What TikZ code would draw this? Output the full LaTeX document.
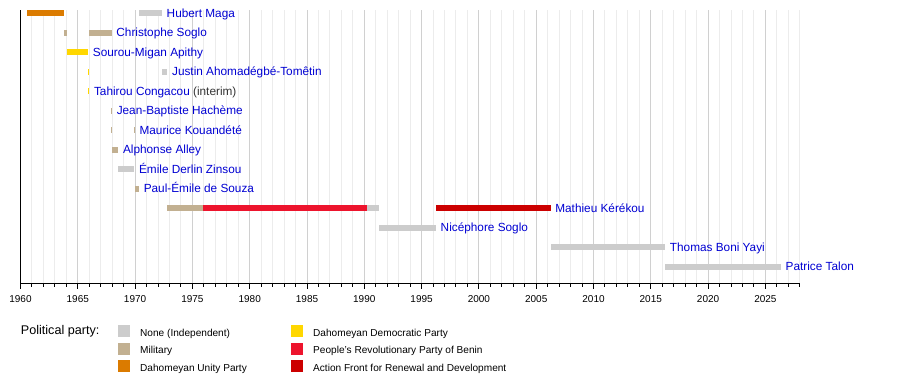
\documentclass[tikz,border=0pt]{standalone}
\usepackage{fontspec}
\setmainfont{Liberation Sans}
\definecolor{cnone}{RGB}{204,204,204}
\definecolor{cmil}{RGB}{194,176,145}
\definecolor{cdup}{RGB}{219,123,0}
\definecolor{cddp}{RGB}{255,215,0}
\definecolor{cprpb}{RGB}{237,20,45}
\definecolor{cfard}{RGB}{204,0,0}
\definecolor{clink}{RGB}{0,0,210}
\definecolor{cmajor}{RGB}{208,208,208}
\definecolor{cminor}{RGB}{236,236,236}
\newcommand\YX[1]{(20.5+((#1)-1960)*11.46)}
\newcommand\tbar[4]{\fill[#4] ({\YX{#2}},{#1-3}) rectangle ({\YX{#3}},{#1+3});}
\newcommand\tlbl[4]{\node[lbl] (#1) at ({\YX{#2}+4.5},{#3+4.3}) {#4};}
\tikzset{
  lbl/.style={anchor=base west,inner sep=0pt,text=clink,font=\fontsize{11.8}{13}\selectfont},
  yrlbl/.style={anchor=base,inner sep=0pt,font=\fontsize{10}{12}\selectfont},
  legtxt/.style={anchor=base west,inner sep=0pt,font=\fontsize{10.1}{12}\selectfont},
}
\begin{document}
\begin{tikzpicture}[x=1pt,y=-1pt]
\useasboundingbox (0,0) rectangle (900,383);
% grid
\foreach \y in {1961,...,2028}{
  \draw[cminor,line width=1pt] ({\YX{\y}},10) -- ({\YX{\y}},283);
}
\foreach \y in {1965,1970,...,2025}{
  \draw[cmajor,line width=1pt] ({\YX{\y}},10) -- ({\YX{\y}},283);
}
% bars
\tbar{13}{1960.58}{1963.82}{cdup}
\tbar{13}{1970.35}{1972.35}{cnone}
\tlbl{maga}{1972.35}{13}{Hubert Maga}
\tbar{32.5}{1963.82}{1964.07}{cmil}
\tbar{32.5}{1965.97}{1967.96}{cmil}
\tlbl{csoglo}{1967.96}{32.5}{Christophe Soglo}
\tbar{52}{1964.07}{1965.91}{cddp}
\tlbl{apithy}{1965.91}{52}{Sourou-Migan Apithy}
\tbar{71.5}{1965.88}{1965.95}{cddp}
\tbar{71.5}{1972.35}{1972.82}{cnone}
\tlbl{ahom}{1972.82}{71.5}{Justin Ahomadégbé-Tomêtin}
\tbar{91}{1965.93}{1966.01}{cddp}
\tlbl{cong}{1966.01}{91}{Tahirou Congacou \textcolor{black!80}{(interim)}}
\tbar{110.5}{1967.92}{1967.99}{cmil}
\tlbl{hach}{1967.99}{110.5}{Jean-Baptiste Hachème}
\tbar{130}{1967.93}{1968.0}{cmil}
\tbar{130}{1969.91}{1969.98}{cmil}
\tlbl{kouan}{1969.98}{130}{Maurice Kouandété}
\tbar{149.5}{1967.97}{1968.54}{cmil}
\tlbl{alley}{1968.54}{149.5}{Alphonse Alley}
\tbar{169}{1968.54}{1969.94}{cnone}
\tlbl{zinsou}{1969.94}{169}{Émile Derlin Zinsou}
\tbar{188.5}{1969.95}{1970.35}{cmil}
\tlbl{souza}{1970.35}{188.5}{Paul-Émile de Souza}
\tbar{208}{1972.82}{1975.92}{cmil}
\tbar{208}{1975.92}{1990.24}{cprpb}
\tbar{208}{1990.24}{1991.28}{cnone}
\tbar{208}{1996.26}{2006.26}{cfard}
\tlbl{kerekou}{2006.26}{208}{Mathieu Kérékou}
\tbar{227.5}{1991.26}{1996.26}{cnone}
\tlbl{nsoglo}{1996.26}{227.5}{Nicéphore Soglo}
\tbar{247}{2006.26}{2016.26}{cnone}
\tlbl{yayi}{2016.26}{247}{Thomas Boni Yayi}
\tbar{266.5}{2016.26}{2026.36}{cnone}
\tlbl{talon}{2026.36}{266.5}{Patrice Talon}
% axes
\draw[black,line width=1pt] (20.5,10) -- (20.5,283.5) -- (800,283.5);
\foreach \y in {1961,...,2028}{
  \draw[black,line width=1pt] ({\YX{\y}},283.5) -- ({\YX{\y}},286.5);
}
\foreach \y in {1960,1965,...,2025}{
  \draw[black,line width=1pt] ({\YX{\y}},283.5) -- ({\YX{\y}},289);
  \node[yrlbl] (y\y) at ({\YX{\y}},302) {\y};
}
% legend
\node[anchor=base west,inner sep=0pt,font=\fontsize{12.6}{14}\selectfont] (pp) at (20.7,334.5) {Political party:};
\fill[cnone] (118,325) rectangle (130,337);
\node[legtxt] (l1) at (140,336.3) {None (Independent)};
\fill[cmil] (118,342.5) rectangle (130,354.5);
\node[legtxt] (l2) at (140,353.7) {Military};
\fill[cdup] (118,360) rectangle (130,372);
\node[legtxt] (l3) at (140,371.2) {Dahomeyan Unity Party};
\fill[cddp] (291,325) rectangle (303,337);
\node[legtxt] (l4) at (313,336.3) {Dahomeyan Democratic Party};
\fill[cprpb] (291,342.5) rectangle (303,354.5);
\node[legtxt] (l5) at (313,353.7) {People's Revolutionary Party of Benin};
\fill[cfard] (291,360) rectangle (303,372);
\node[legtxt] (l6) at (313,371.2) {Action Front for Renewal and Development};
\end{tikzpicture}
\end{document}
